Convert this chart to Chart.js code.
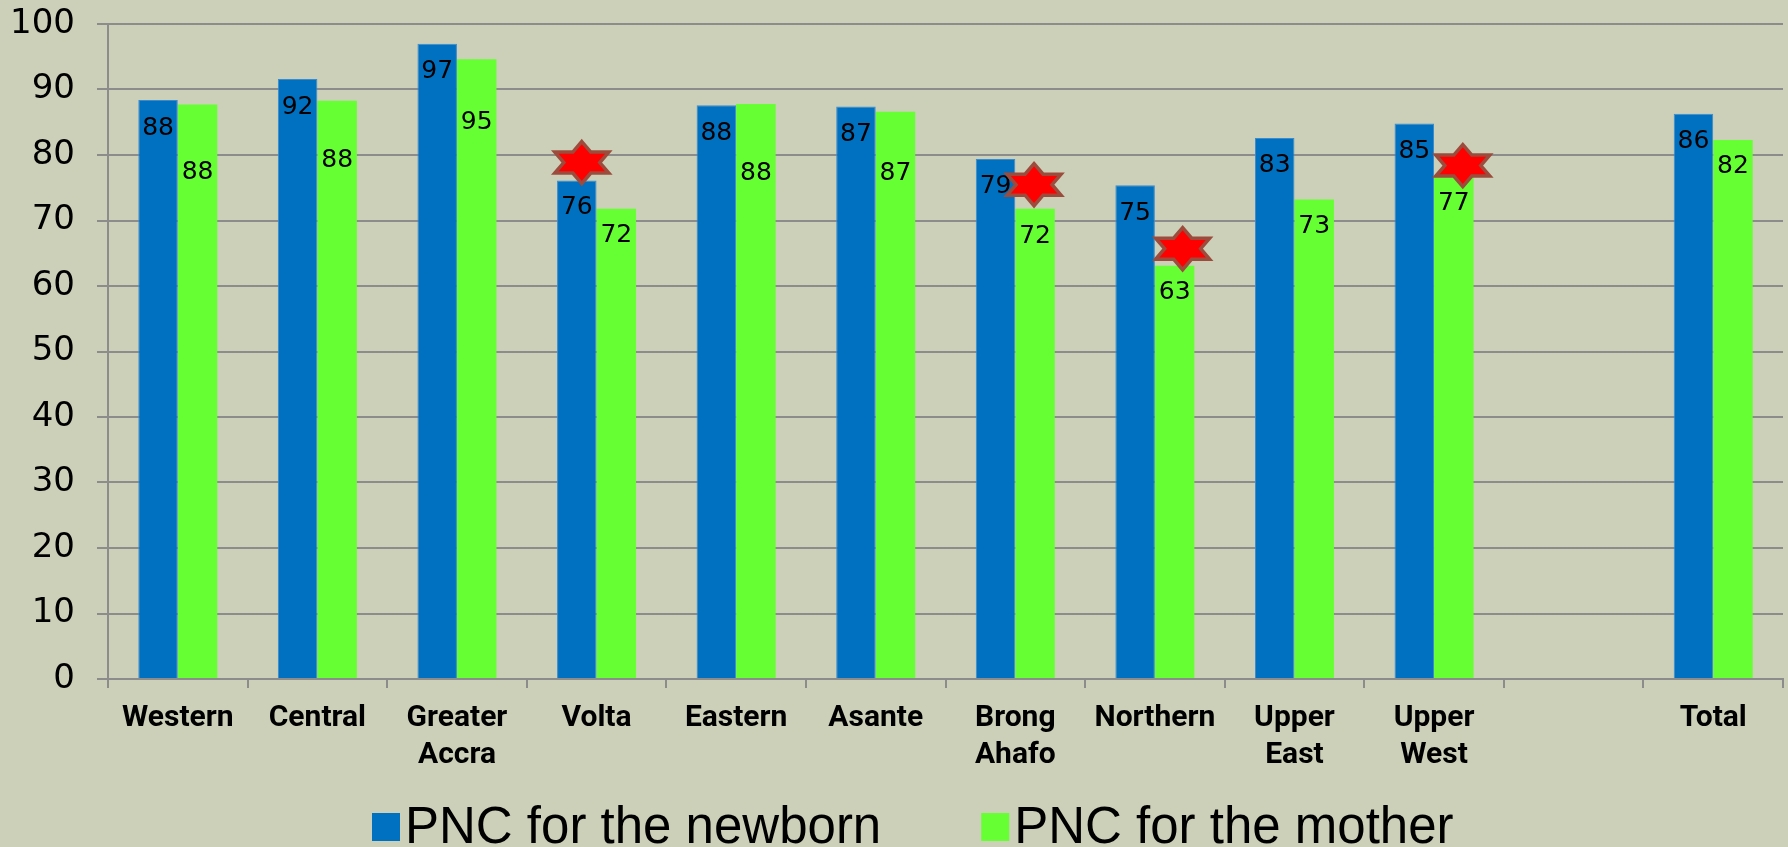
<!DOCTYPE html>
<html>
<head>
<meta charset="utf-8">
<script src="https://cdn.jsdelivr.net/npm/chart.js@4.4.0/dist/chart.umd.min.js"></script>
<style>
    html, body { margin: 0; padding: 0; background: #ccd0b9; }
    canvas { display: block; }
</style>
</head>
<body>
<canvas id="myChart" width="1788" height="847"></canvas>
<script>
const regions = ["Western", "Central", ["Greater", "Accra"], "Volta", "Eastern", "Asante", ["Brong", "Ahafo"], "Northern", ["Upper", "East"], ["Upper", "West"], "", "Total"];
const newborn = [88.4, 91.6, 97.0, 76.1, 87.6, 87.4, 79.4, 75.4, 82.6, 84.8, null, 86.3];
const mother = [87.7, 88.3, 94.6, 71.8, 87.8, 86.6, 71.8, 63.1, 73.2, 76.7, null, 82.3];
const seriesNames = ["PNC for the newborn", "PNC for the mother"];
const yTicks = [0, 10, 20, 30, 40, 50, 60, 70, 80, 90, 100];
// [category, series] that get a red star
const starred = [[3, 0], [6, 1], [7, 1], [9, 1]];

// label distance below bar top (px), and star offset from bar top centre (px)
const labelOffsets = [
    [29, 28, 28, 27, 28, 28, 28, 28, 28, 28, 0, 28],
    [68, 60, 63, 27, 70, 62, 28, 27, 27, 27, 0, 27]
];
const starOffsets = [[5, -18], [-1, -24], [8, -17], [9, -11]];

const valueLabels = {
    id: "valueLabels",
    afterDatasetsDraw(chart) {
        const ctx = chart.ctx;
        ctx.save();
        ctx.font = "25px 'DejaVu Sans', sans-serif";
        ctx.fillStyle = "#000";
        ctx.textAlign = "center";
        ctx.textBaseline = "middle";
        chart.data.datasets.forEach((ds, i) => {
            chart.getDatasetMeta(i).data.forEach((bar, j) => {
                if (ds.data[j] == null) return;
                ctx.fillText(Math.round(ds.data[j]), bar.x, bar.y + labelOffsets[i][j]);
            });
        });

        starred.forEach(([cat, ser], k) => {
            const bar = chart.getDatasetMeta(ser).data[cat];
            drawStar(ctx, bar.x + starOffsets[k][0], bar.y + starOffsets[k][1]);
        });
        ctx.restore();
    }
};

function drawStar(ctx, cx, cy) {
    const rx = 31.2, ry = 21;
    ctx.beginPath();
    for (let i = 0; i < 12; i++) {
        const a = i * Math.PI / 6;
        const f = i % 2 === 0 ? 1 : 1 / Math.sqrt(3);
        const x = cx + Math.sin(a) * rx * f;
        const y = cy - Math.cos(a) * ry * f;
        if (i === 0) ctx.moveTo(x, y); else ctx.lineTo(x, y);
    }
    ctx.closePath();
    ctx.fillStyle = "#ff0000";
    ctx.fill();
    ctx.lineWidth = 3.5;
    ctx.lineJoin = "miter";
    ctx.strokeStyle = "#9c4c3c";
    ctx.stroke();
}

const bottomLegend = {
    id: "bottomLegend",
    afterDraw(chart) {
        const ctx = chart.ctx;
        ctx.save();
        ctx.font = "51px 'Liberation Sans', Arial, sans-serif";
        ctx.textBaseline = "alphabetic";
        let x = 372;
        chart.data.datasets.forEach((ds) => {
            ctx.fillStyle = ds.backgroundColor;
            ctx.fillRect(x, 813, 28, 28);
            ctx.fillStyle = "#000";
            ctx.fillText(ds.label, x + 33, 843);
            x += 33 + ctx.measureText(ds.label).width + 100;
        });
        ctx.restore();
    }
};

const ctx = document.getElementById("myChart");

new Chart(ctx, {
    type: "bar",
    data: {
        labels: regions,
        datasets: [{
            label: seriesNames[0],
            data: newborn,
            backgroundColor: "#0070c0",
            borderColor: "#3a8ad0",
            borderWidth: 1
        }, {
            label: seriesNames[1],
            data: mother,
            backgroundColor: "#66ff33",
            borderWidth: 0
        }]
    },
    options: {
        responsive: false,
        animation: false,
        categoryPercentage: 0.566,
        barPercentage: 1.0,
        layout: {
            padding: { top: 24, right: 5, bottom: 73, left: 0 }
        },
        plugins: {
            legend: { display: false },
            tooltip: { enabled: false }
        },
        scales: {
            x: {
                afterFit: (s) => { s.height = 95; },
                grid: {
                    drawOnChartArea: false,
                    drawTicks: true,
                    tickLength: 9,
                    color: "#8c8c8c",
                    lineWidth: 2
                },
                border: { color: "#8c8c8c", width: 2 },
                ticks: {
                    color: "#000",
                    padding: 12,
                    maxRotation: 0,
                    autoSkip: false,
                    font: { family: "Roboto", size: 30, weight: "bold", lineHeight: 1.23 }
                }
            },
            y: {
                min: 0,
                max: 100,
                afterFit: (s) => {
                    s.width = 108;
                    s.paddingTop = 0;
                    s.paddingBottom = 0;
                },
                afterBuildTicks: (s) => { s.ticks = yTicks.map(v => ({ value: v })); },
                grid: {
                    color: "#8c8c8c",
                    lineWidth: 2,
                    tickLength: 11
                },
                border: { color: "#8c8c8c", width: 2 },
                ticks: {
                    color: "#000",
                    padding: 22,
                    font: { family: "DejaVu Sans", size: 34 }
                }
            }
        }
    },
    plugins: [valueLabels, bottomLegend]
});
</script>
</body>
</html>
